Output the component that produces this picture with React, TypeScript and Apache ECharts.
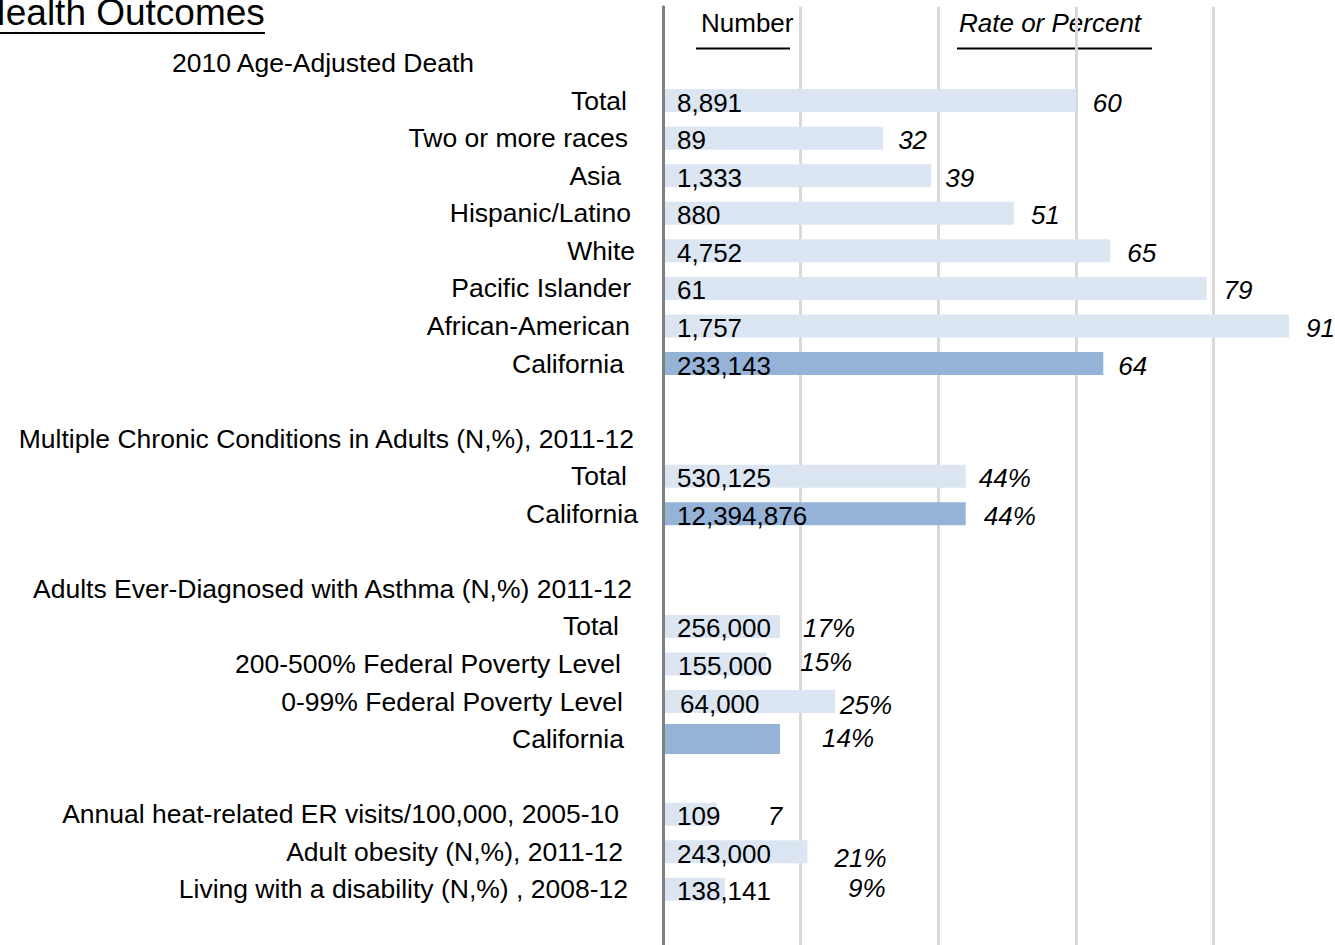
import React, { useEffect, useRef } from "react";
import * as echarts from "echarts";

// ---------- DATA ----------
const categories: string[] = [
  "",
  "2010 Age-Adjusted Death",
  "Total",
  "Two or more races",
  "Asia",
  "Hispanic/Latino",
  "White",
  "Pacific Islander",
  "African-American",
  "California",
  "",
  "Multiple Chronic Conditions in Adults (N,%), 2011-12",
  "Total",
  "California",
  "",
  "Adults Ever-Diagnosed with Asthma (N,%) 2011-12",
  "Total",
  "200-500% Federal Poverty Level",
  "0-99% Federal Poverty Level",
  "California",
  "",
  "Annual heat-related ER visits/100,000, 2005-10",
  "Adult obesity (N,%), 2011-12",
  "Living with a disability (N,%) , 2008-12",
  "",
];

const numberLabels: string[] = [
  "", "", "8,891", "89", "1,333", "880", "4,752", "61", "1,757", "233,143",
  "", "", "530,125", "12,394,876",
  "", "", "256,000", "155,000", "64,000", "",
  "", "109", "243,000", "138,141", "",
];

// bar length (rate or percent)
const barValues: (number | null)[] = [
  null, null, 60, 32, 39, 51, 65, 79, 91, 64,
  null, null, 44, 44,
  null, null, 17, 15, 25, 17,
  null, 7.8, 21, 9, null,
];

const rateLabels: string[] = [
  "", "", "60", "32", "39", "51", "65", "79", "91", "64",
  "", "", "44%", "44%",
  "", "", "17%", "15%", "25%", "14%",
  "", "7", "21%", "9%", "",
];

const xTicks = { min: 0, max: 100, interval: 20 };

// ---------- LAYOUT TWEAKS (text placement only) ----------
const labelPadRight: number[] = [
  36, 189, 36, 35, 42, 32, 28, 32, 33, 39,
  36, 29, 36, 25,
  36, 31, 44, 42, 40, 39,
  36, 44, 40, 35, 36,
];
const labelDy: number[] = [
  2, 3.5, 1.5, 0, 2, 2, 2, 2, 2, 2,
  2, -2.5, 2, 2,
  2, 2, 2, 2, 2, 2,
  2, 2, 2, 2, 2,
];
const rateDx: number[] = [
  0, 0, 0, -2, -3, 0, 0, 0, 0, -2,
  0, 0, -4, 1,
  0, 0, 6, 17, -12, 25,
  0, 34, 10, 106, 0,
];
const rateDy: number[] = [
  2, 2, 2, 2, 2, 2, 2, 2, 2, 2,
  2, 2, 2, 2,
  2, 2, 2, -2, 3, -1,
  2, 2, 6, -1, 2,
];
const numberDx: number[] = [
  0, 0, 0, 0, 0, 0, 0, 0, 0, 0,
  0, 0, 0, 0,
  0, 0, 0, 1, 3, 0,
  0, 0, 0, 0, 0,
];
const wideBarRows = [19];

export default function App() {
  const ref = useRef<HTMLDivElement>(null);

  useEffect(() => {
    if (!ref.current) return;
    const chart = echarts.init(ref.current, null, { renderer: "svg" });
    const FONT = "'Liberation Sans', Arial, Helvetica, sans-serif";
    const LIGHT = "#dce6f2";
    const DARK = "#95b3d7";

    const yData = categories.map((c, i) => {
      const dy = labelDy[i];
      return {
        value: c,
        textStyle: {
          padding: [Math.max(0, 2 * dy), labelPadRight[i], Math.max(0, -2 * dy), 0],
        },
      };
    });

    const mainBars = barValues.map((v, i) =>
      v == null || wideBarRows.includes(i)
        ? null
        : {
            value: v,
            itemStyle: { color: categories[i] === "California" ? DARK : LIGHT },
            label: { offset: [numberDx[i], 2] },
          }
    );

    const wideBars = barValues.map((v, i) =>
      v != null && wideBarRows.includes(i)
        ? { value: v, itemStyle: { color: DARK } }
        : null
    );

    const rateItems: any[] = [];
    barValues.forEach((v, i) => {
      if (v == null) return;
      rateItems.push({
        value: [v, i],
        label: { offset: [rateDx[i], rateDy[i]] },
      });
    });

    const option: any = {
      animation: false,
      backgroundColor: "#ffffff",
      textStyle: { fontFamily: FONT },
      grid: {
        left: 663,
        top: 6.7,
        width: 688,
        height: 939,
        containLabel: false,
        outerBoundsMode: "none",
      },
      xAxis: {
        type: "value",
        min: xTicks.min,
        max: xTicks.max,
        interval: xTicks.interval,
        axisLine: { show: false },
        axisTick: { show: false },
        axisLabel: { show: false },
        splitLine: { show: true, lineStyle: { color: "#d9d9d9", width: 3 } },
      },
      yAxis: [
        {
          type: "category",
          inverse: true,
          data: yData,
          z: 10,
          axisLine: { show: true, lineStyle: { color: "#7f7f7f", width: 3 } },
          axisTick: { show: false },
          splitLine: { show: false },
          axisLabel: {
            interval: 0,
            margin: 0,
            fontSize: 26.5,
            color: "#000",
            fontFamily: FONT,
            align: "right",
          },
        },
        {
          type: "category",
          inverse: true,
          data: categories,
          show: false,
        },
      ],
      series: [
        {
          type: "bar",
          yAxisIndex: 0,
          barWidth: 23,
          data: mainBars,
          label: {
            show: true,
            position: "insideLeft",
            distance: 14,
            fontSize: 26,
            color: "#000",
            fontFamily: FONT,
            formatter: (p: any) => numberLabels[p.dataIndex],
          },
        },
        {
          type: "bar",
          yAxisIndex: 1,
          barWidth: 30,
          data: wideBars,
        },
        {
          type: "scatter",
          yAxisIndex: 0,
          symbolSize: 0,
          silent: true,
          itemStyle: { color: "#000000", opacity: 1 },
          data: rateItems,
          z: 5,
          label: {
            show: true,
            position: "right",
            distance: 17,
            fontSize: 26,
            fontStyle: "italic",
            color: "#000000",
            opacity: 1,
            fontFamily: FONT,
            formatter: (p: any) => rateLabels[p.value[1]],
          },
        },
      ],
      graphic: [
        {
          type: "text",
          x: -21,
          y: 12.5,
          style: {
            text: "Health Outcomes",
            fontSize: 37,
            fontFamily: FONT,
            fill: "#000",
            verticalAlign: "middle",
          },
        },
        {
          type: "line",
          shape: { x1: 0, y1: 33, x2: 265, y2: 33 },
          style: { stroke: "#000", lineWidth: 2 },
        },
        {
          type: "text",
          x: 701,
          y: 22.7,
          style: {
            text: "Number",
            fontSize: 26,
            fontFamily: FONT,
            fill: "#000",
            verticalAlign: "middle",
          },
        },
        {
          type: "line",
          shape: { x1: 696, y1: 48.5, x2: 790, y2: 48.5 },
          style: { stroke: "#000", lineWidth: 2 },
        },
        {
          type: "text",
          x: 959,
          y: 22.7,
          style: {
            text: "Rate or Percent",
            fontSize: 26,
            fontStyle: "italic",
            fontFamily: FONT,
            fill: "#000",
            verticalAlign: "middle",
          },
        },
        {
          type: "line",
          shape: { x1: 957, y1: 48.5, x2: 1152, y2: 48.5 },
          style: { stroke: "#000", lineWidth: 2 },
        },
      ],
    };

    chart.setOption(option);
    return () => chart.dispose();
  }, []);

  return (
    <div
      ref={ref}
      style={{ position: "absolute", left: 0, top: 0, width: 1335, height: 945 }}
    />
  );
}
